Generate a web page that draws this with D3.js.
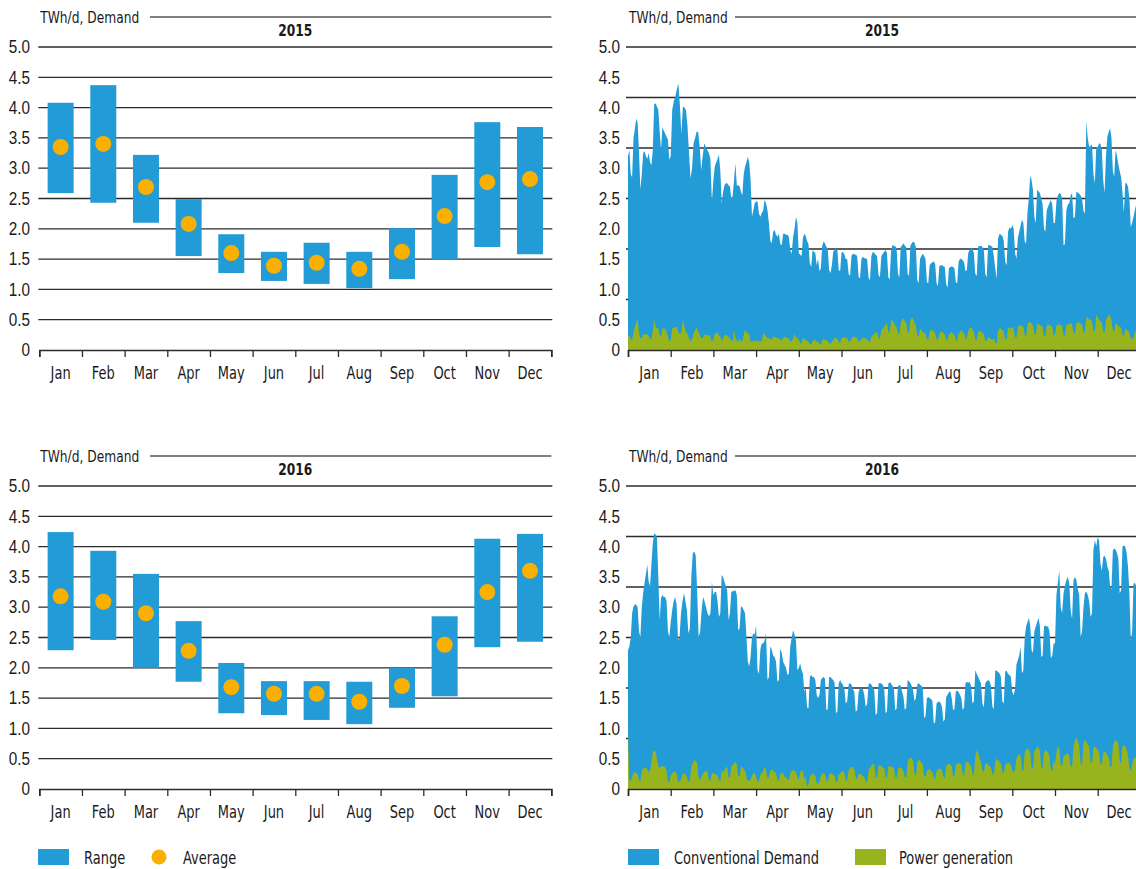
<!DOCTYPE html>
<html>
<head>
<meta charset="utf-8">
<script src="https://cdn.jsdelivr.net/npm/d3@7"></script>
<style>
  body { margin: 0; background: #fff; }
  svg { display: block; font-family: 'Liberation Sans Narrow', 'DejaVu Sans Condensed', 'Roboto', sans-serif; }
</style>
</head>
<body>
<svg id="chart" width="1136" height="869"></svg>
<script>
const months = ['Jan', 'Feb', 'Mar', 'Apr', 'May', 'Jun', 'Jul', 'Aug', 'Sep', 'Oct', 'Nov', 'Dec'];
const yTicks = [0, 0.5, 1, 1.5, 2, 2.5, 3, 3.5, 4, 4.5, 5];

// monthly range / average (left panels)
const low2015 = [2.59, 2.43, 2.1, 1.55, 1.27, 1.14, 1.09, 1.02, 1.17, 1.49, 1.7, 1.58];
const high2015 = [4.08, 4.37, 3.22, 2.49, 1.91, 1.62, 1.77, 1.62, 2.01, 2.89, 3.76, 3.68];
const avg2015 = [3.35, 3.4, 2.69, 2.08, 1.6, 1.39, 1.44, 1.34, 1.62, 2.21, 2.77, 2.82];
const low2016 = [2.29, 2.46, 2.0, 1.77, 1.25, 1.22, 1.14, 1.07, 1.34, 1.53, 2.34, 2.43];
const high2016 = [4.24, 3.93, 3.55, 2.77, 2.08, 1.78, 1.78, 1.77, 2.0, 2.85, 4.13, 4.21];
const avg2016 = [3.18, 3.09, 2.9, 2.28, 1.68, 1.57, 1.57, 1.44, 1.7, 2.38, 3.25, 3.6];

// daily conventional demand, one array per month (right panels)
const demand2015 = [
  [3.2,3.3,2.9,2.85,3.5,3.65,3.82,3.75,3.25,2.65,2.9,3.25,3.28,3.2,3.15,3.25,3.1,3.05,3.3,4.05,4.07,4.02,3.96,3.6,3.3,3.68,3.62,3.57,3.52,3.47,3.14],
  [3.2,3.96,4.1,4.18,4.3,4.4,4.05,3.57,4.02,4.0,3.96,3.7,3.25,2.83,3.0,3.41,3.5,3.6,3.6,3.36,2.97,3.2,3.41,3.35,3.3,3.25,3.16,2.45],
  [2.8,3.03,3.1,3.15,3.22,2.97,2.42,2.6,2.72,2.75,2.75,2.72,2.7,2.5,2.55,2.8,3.08,2.72,2.72,2.7,2.61,2.55,2.9,3.03,3.1,3.19,3.1,2.8,2.2,2.3,2.42],
  [2.45,2.45,2.25,2.2,2.26,2.3,2.48,2.42,2.3,2.09,1.8,1.76,1.95,1.98,1.9,1.87,1.92,1.75,1.73,1.92,1.92,1.9,1.9,1.87,1.65,1.59,1.87,2.0,2.2,2.1],
  [1.6,1.57,1.55,1.85,1.92,1.88,1.8,1.75,1.43,1.37,1.65,1.62,1.6,1.4,1.5,1.3,1.35,1.72,1.79,1.76,1.7,1.68,1.32,1.27,1.4,1.62,1.66,1.68,1.65,1.32,1.3],
  [1.6,1.62,1.58,1.5,1.5,1.26,1.22,1.55,1.59,1.58,1.57,1.55,1.21,1.18,1.5,1.54,1.52,1.51,1.5,1.2,1.15,1.55,1.62,1.6,1.57,1.55,1.24,1.2,1.55,1.59],
  [1.62,1.65,1.6,1.2,1.16,1.65,1.73,1.72,1.71,1.68,1.26,1.2,1.7,1.73,1.76,1.72,1.7,1.26,1.22,1.72,1.76,1.79,1.77,1.7,1.16,1.1,1.5,1.55,1.59,1.55,1.5],
  [1.12,1.1,1.4,1.43,1.45,1.46,1.42,1.1,1.05,1.38,1.4,1.4,1.38,1.37,1.08,1.03,1.35,1.37,1.38,1.37,1.35,1.12,1.1,1.45,1.51,1.5,1.48,1.45,1.3,1.32,1.6],
  [1.65,1.68,1.68,1.6,1.26,1.22,1.71,1.71,1.72,1.7,1.65,1.26,1.2,1.73,1.73,1.72,1.7,1.55,1.35,1.17,1.84,1.92,1.9,1.88,1.8,1.46,1.4,1.95,2.02,2.0],
  [2.06,2.0,1.6,1.5,1.84,1.95,2.05,2.15,2.1,1.8,1.75,2.26,2.5,2.88,2.8,2.64,2.2,2.09,2.64,2.62,2.59,2.5,2.4,2.0,1.95,2.3,2.37,2.42,2.48,2.4,2.09],
  [2.1,2.45,2.55,2.59,2.58,2.5,1.73,1.75,2.31,2.4,2.42,2.55,2.59,2.17,2.2,2.61,2.6,2.58,2.55,2.5,2.3,2.25,3.77,3.5,3.35,3.37,3.39,2.9,2.75,3.35],
  [3.35,3.41,3.4,3.3,2.8,2.59,3.2,3.52,3.6,3.66,3.5,2.95,2.86,3.3,3.2,3.06,2.95,2.85,2.6,2.26,2.75,2.75,2.7,2.5,2.03,2.1,2.2,2.31,2.4,2.45,2.3]
];
const power2015 = [
  [0.22,0.24,0.18,0.17,0.3,0.38,0.45,0.52,0.28,0.19,0.2,0.25,0.27,0.25,0.26,0.24,0.19,0.18,0.33,0.5,0.38,0.36,0.36,0.25,0.22,0.36,0.35,0.35,0.3,0.22,0.15],
  [0.16,0.36,0.37,0.38,0.38,0.3,0.25,0.3,0.5,0.38,0.3,0.27,0.2,0.14,0.18,0.27,0.33,0.38,0.3,0.25,0.19,0.2,0.25,0.25,0.24,0.25,0.22,0.14],
  [0.18,0.27,0.27,0.3,0.24,0.22,0.16,0.18,0.24,0.25,0.24,0.22,0.2,0.16,0.14,0.33,0.2,0.16,0.14,0.2,0.14,0.15,0.25,0.33,0.3,0.27,0.27,0.14,0.13,0.15,0.16],
  [0.14,0.16,0.15,0.14,0.15,0.27,0.27,0.22,0.2,0.2,0.18,0.17,0.22,0.22,0.2,0.2,0.19,0.16,0.17,0.2,0.22,0.2,0.2,0.19,0.15,0.14,0.19,0.27,0.2,0.2],
  [0.16,0.12,0.11,0.2,0.18,0.17,0.15,0.14,0.1,0.09,0.15,0.16,0.17,0.13,0.15,0.1,0.09,0.16,0.18,0.17,0.16,0.15,0.11,0.1,0.13,0.17,0.2,0.2,0.18,0.13,0.12],
  [0.2,0.2,0.22,0.2,0.2,0.14,0.13,0.2,0.22,0.22,0.21,0.2,0.15,0.14,0.18,0.2,0.2,0.19,0.18,0.14,0.13,0.22,0.25,0.27,0.28,0.3,0.2,0.18,0.33,0.35],
  [0.38,0.42,0.44,0.3,0.28,0.5,0.48,0.45,0.4,0.38,0.28,0.25,0.45,0.5,0.52,0.48,0.44,0.3,0.28,0.5,0.53,0.52,0.45,0.4,0.25,0.22,0.35,0.33,0.3,0.28,0.27],
  [0.18,0.17,0.3,0.33,0.33,0.3,0.28,0.18,0.16,0.27,0.3,0.3,0.28,0.25,0.17,0.16,0.25,0.28,0.3,0.27,0.25,0.17,0.15,0.27,0.3,0.33,0.3,0.28,0.18,0.2,0.3],
  [0.36,0.38,0.34,0.3,0.18,0.16,0.3,0.32,0.3,0.28,0.27,0.15,0.14,0.22,0.2,0.18,0.17,0.2,0.12,0.11,0.32,0.36,0.35,0.33,0.3,0.18,0.17,0.38,0.36,0.35],
  [0.38,0.36,0.22,0.2,0.38,0.4,0.41,0.4,0.38,0.25,0.22,0.42,0.47,0.45,0.44,0.4,0.27,0.24,0.42,0.43,0.41,0.4,0.38,0.24,0.22,0.4,0.42,0.41,0.4,0.38,0.24],
  [0.25,0.4,0.42,0.42,0.41,0.4,0.25,0.24,0.42,0.42,0.43,0.44,0.42,0.28,0.26,0.44,0.46,0.45,0.44,0.42,0.3,0.28,0.55,0.53,0.5,0.5,0.47,0.32,0.3,0.58],
  [0.55,0.5,0.48,0.45,0.3,0.28,0.5,0.55,0.58,0.56,0.5,0.32,0.3,0.45,0.42,0.4,0.38,0.37,0.25,0.24,0.35,0.33,0.32,0.28,0.2,0.18,0.2,0.3,0.32,0.3,0.25]
];
const demand2016 = [
  [2.29,2.35,2.5,2.9,3.01,3.05,3.04,3.0,2.6,2.51,3.0,3.23,3.4,3.55,3.7,3.42,3.35,3.7,4.05,4.22,4.2,4.15,3.5,2.79,3.15,3.2,3.17,3.17,3.1,2.6,2.51],
  [2.75,2.95,3.1,3.17,3.05,2.46,2.5,2.9,3.1,3.23,3.1,2.95,2.57,2.65,3.5,3.89,3.92,3.85,3.23,2.51,2.6,2.95,3.17,3.1,3.0,2.9,2.85,2.9,3.42],
  [3.2,3.25,3.25,3.1,2.84,2.9,3.53,3.5,3.42,3.35,3.28,2.79,2.9,3.26,3.26,3.27,3.28,3.2,2.62,2.65,3.01,3.0,2.95,2.9,2.51,2.1,2.02,2.18,2.5,2.57,2.55],
  [2.7,1.96,1.9,2.3,2.4,2.4,2.45,2.57,1.8,1.85,2.35,2.3,2.2,2.18,2.1,1.77,1.8,2.32,2.25,2.1,2.05,2.0,1.88,1.9,2.35,2.5,2.62,2.55,2.45,1.96],
  [2.0,2.07,1.96,1.9,1.6,1.69,1.35,1.33,1.85,1.88,1.85,1.85,1.8,1.55,1.5,1.55,1.8,1.83,1.85,1.82,1.3,1.32,1.85,1.85,1.82,1.8,1.75,1.25,1.28,1.75,1.8],
  [1.75,1.72,1.65,1.41,1.45,1.72,1.75,1.72,1.65,1.6,1.28,1.3,1.6,1.66,1.66,1.65,1.55,1.36,1.4,1.72,1.75,1.72,1.68,1.63,1.22,1.25,1.74,1.75,1.74,1.72],
  [1.65,1.25,1.28,1.74,1.76,1.74,1.7,1.67,1.3,1.33,1.69,1.72,1.7,1.6,1.52,1.3,1.35,1.8,1.78,1.75,1.7,1.63,1.45,1.5,1.72,1.75,1.72,1.7,1.68,1.17,1.2],
  [1.5,1.52,1.5,1.48,1.46,1.08,1.1,1.41,1.44,1.44,1.42,1.35,1.11,1.15,1.52,1.55,1.6,1.61,1.5,1.3,1.32,1.61,1.62,1.6,1.55,1.5,1.3,1.35,1.74,1.77,1.75],
  [1.77,1.7,1.41,1.45,1.96,1.9,1.85,1.8,1.74,1.41,1.35,1.74,1.78,1.8,1.78,1.7,1.36,1.32,1.96,1.95,1.93,1.91,1.85,1.45,1.41,1.94,1.95,1.9,1.88,1.85],
  [1.6,1.55,1.65,2.05,2.13,2.2,2.35,1.91,1.95,2.5,2.68,2.75,2.82,2.7,2.29,2.25,2.6,2.68,2.75,2.82,2.7,2.18,2.2,2.68,2.7,2.68,2.68,2.6,2.16,2.2,2.4],
  [2.4,3.2,3.4,3.61,3.0,2.9,3.23,3.35,3.45,3.5,3.4,2.95,2.8,3.45,3.5,3.45,3.3,3.2,2.51,2.6,3.0,3.23,3.26,3.2,3.1,2.84,2.9,3.94,4.11,4.0],
  [4.16,4.1,3.72,3.6,3.83,3.85,3.8,3.67,3.6,3.34,3.3,3.94,3.97,3.95,3.9,3.8,3.23,3.28,4.0,4.02,4.0,3.9,3.67,3.23,2.46,2.6,3.39,3.4,3.35,3.2,2.9]
];
const power2016 = [
  [0.97,0.15,0.14,0.2,0.26,0.28,0.26,0.25,0.15,0.12,0.3,0.34,0.36,0.35,0.33,0.28,0.3,0.45,0.6,0.64,0.62,0.5,0.38,0.35,0.37,0.38,0.37,0.36,0.3,0.12,0.11],
  [0.22,0.26,0.28,0.29,0.26,0.12,0.13,0.15,0.25,0.26,0.24,0.2,0.12,0.13,0.38,0.42,0.48,0.46,0.42,0.18,0.15,0.2,0.26,0.28,0.31,0.27,0.15,0.14,0.26],
  [0.26,0.25,0.24,0.22,0.15,0.13,0.31,0.28,0.3,0.35,0.37,0.2,0.18,0.37,0.4,0.42,0.45,0.4,0.22,0.2,0.37,0.36,0.33,0.3,0.2,0.14,0.13,0.16,0.22,0.26,0.25],
  [0.2,0.12,0.13,0.24,0.26,0.3,0.37,0.3,0.18,0.2,0.3,0.32,0.3,0.28,0.25,0.15,0.14,0.25,0.27,0.26,0.2,0.2,0.16,0.15,0.26,0.31,0.31,0.3,0.28,0.2],
  [0.15,0.28,0.3,0.3,0.15,0.22,0.05,0.06,0.2,0.24,0.25,0.24,0.22,0.1,0.08,0.12,0.22,0.25,0.26,0.25,0.14,0.12,0.24,0.26,0.25,0.24,0.22,0.12,0.11,0.24,0.26],
  [0.28,0.3,0.27,0.15,0.14,0.3,0.35,0.37,0.36,0.33,0.18,0.16,0.25,0.25,0.23,0.22,0.2,0.12,0.11,0.3,0.35,0.38,0.42,0.4,0.2,0.18,0.38,0.4,0.38,0.35],
  [0.35,0.2,0.18,0.37,0.38,0.37,0.36,0.35,0.2,0.18,0.34,0.36,0.35,0.33,0.3,0.2,0.19,0.45,0.5,0.52,0.5,0.46,0.25,0.22,0.44,0.48,0.47,0.44,0.4,0.22,0.2],
  [0.3,0.32,0.33,0.3,0.28,0.18,0.16,0.3,0.32,0.34,0.33,0.31,0.2,0.18,0.38,0.4,0.42,0.4,0.38,0.22,0.2,0.4,0.42,0.43,0.42,0.4,0.25,0.22,0.44,0.45,0.44],
  [0.4,0.38,0.25,0.22,0.55,0.64,0.6,0.5,0.45,0.3,0.28,0.42,0.42,0.4,0.38,0.36,0.25,0.23,0.45,0.5,0.48,0.45,0.42,0.28,0.26,0.4,0.42,0.44,0.42,0.4],
  [0.3,0.28,0.32,0.5,0.55,0.59,0.55,0.32,0.3,0.6,0.65,0.67,0.65,0.6,0.35,0.33,0.62,0.66,0.7,0.68,0.64,0.36,0.34,0.6,0.64,0.63,0.6,0.55,0.32,0.3,0.5],
  [0.4,0.6,0.7,0.68,0.4,0.37,0.55,0.56,0.58,0.59,0.55,0.38,0.36,0.7,0.8,0.84,0.8,0.7,0.42,0.4,0.75,0.81,0.78,0.74,0.7,0.45,0.42,0.68,0.7,0.68],
  [0.64,0.62,0.42,0.4,0.6,0.62,0.6,0.55,0.53,0.38,0.36,0.7,0.78,0.81,0.78,0.75,0.45,0.42,0.7,0.72,0.7,0.65,0.55,0.35,0.3,0.4,0.5,0.53,0.5,0.48,0.4]
];

const BLUE = '#229bd6';
const ORANGE = '#fab000';
const GREEN = '#97b41f';
const GRID = '#2b2b2b';
const TEXT = '#1a1a1a';

const svg = d3.select('#chart');

// shared header: unit label with rule, bold year
function header(g, x0, x1, top, year, ruleStart) {
  g.append('text')
    .attr('x', x0 + 1)
    .attr('y', top - 24)
    .attr('font-size', 16)
    .attr('fill', TEXT)
    .text('TWh/d, Demand');
  g.append('line')
    .attr('x1', ruleStart).attr('x2', x1)
    .attr('y1', top - 30).attr('y2', top - 30)
    .attr('stroke', '#555').attr('stroke-width', 1.3);
  g.append('text')
    .attr('x', (x0 + x1) / 2)
    .attr('y', top - 11)
    .attr('text-anchor', 'middle')
    .attr('font-size', 16)
    .attr('font-weight', 'bold')
    .attr('fill', TEXT)
    .text(year);
}

function yLabels(g, y, xRight) {
  g.append('g')
    .attr('transform', 'translate(' + xRight + ',0)')
    .call(d3.axisLeft(y).tickValues(yTicks).tickSize(0).tickPadding(0)
      .tickFormat(d => d === 0 ? '0' : d3.format('.1f')(d)))
    .call(a => a.select('.domain').remove())
    .selectAll('text')
    .attr('font-family', null)
    .attr('font-size', 18)
    .attr('fill', TEXT);
}

function xAxis(g, x0, x1, yBase) {
  const bounds = d3.scaleLinear().domain([0, 12]).range([x0, x1]);
  const ax = g.append('g')
    .attr('transform', 'translate(0,' + yBase + ')')
    .call(d3.axisBottom(bounds).ticks(12).tickSizeOuter(0).tickSize(7).tickFormat(''));
  ax.select('.domain').attr('stroke', GRID).attr('stroke-width', 1.6);
  ax.selectAll('.tick line').attr('stroke', GRID).attr('stroke-width', 1.3);
  const band = d3.scaleBand().domain(months).range([x0, x1]);
  g.selectAll(null)
    .data(months)
    .join('text')
    .attr('x', d => band(d) + band.bandwidth() / 2)
    .attr('y', yBase + 29)
    .attr('text-anchor', 'middle')
    .attr('font-size', 17)
    .attr('fill', TEXT)
    .text(d => d);
}

function rangePanel(top, year, low, high, avg) {
  const x0 = 39.3, x1 = 551.3;
  const g = svg.append('g');
  const y = d3.scaleLinear().domain([0, 5]).range([top + 303, top]);
  const x = d3.scaleBand().domain(months).range([x0, x1]);

  header(g, x0, x1, top, year, 150);

  g.selectAll(null)
    .data(yTicks.filter(v => v > 0))
    .join('line')
    .attr('x1', x0 - 1).attr('x2', x1 + 1)
    .attr('y1', d => y(d)).attr('y2', d => y(d))
    .attr('stroke', GRID).attr('stroke-width', 1.3);

  yLabels(g, y, 30);

  g.selectAll(null)
    .data(months)
    .join('rect')
    .attr('x', d => x(d) + x.bandwidth() / 2 - 13)
    .attr('width', 26)
    .attr('y', (d, i) => y(high[i]))
    .attr('height', (d, i) => y(low[i]) - y(high[i]))
    .attr('fill', BLUE);

  g.selectAll(null)
    .data(months)
    .join('circle')
    .attr('cx', d => x(d) + x.bandwidth() / 2)
    .attr('cy', (d, i) => y(avg[i]))
    .attr('r', 8)
    .attr('fill', ORANGE);

  xAxis(g, x0, x1, y(0));
}

function dailyPanel(top, year, demand, power) {
  const x0 = 628, x1 = 1140.4;
  const g = svg.append('g');
  const y = d3.scaleLinear().domain([0, 5]).range([top + 303, top]);
  const starts = d3.cumsum([0].concat(demand.map(m => m.length)));
  const xDay = d3.scaleLinear()
    .domain(Array.from(starts))
    .range(d3.range(13).map(i => x0 + i * (x1 - x0) / 12));

  header(g, x0, 1136, top, year, 735);

  // horizontal rules split the height in six
  g.selectAll(null)
    .data(d3.range(1, 7).map(i => 5 * i / 6))
    .join('line')
    .attr('x1', x0 - 2).attr('x2', 1136)
    .attr('y1', d => y(d)).attr('y2', d => y(d))
    .attr('stroke', GRID).attr('stroke-width', 1.3);

  yLabels(g, y, 620);

  const area = d3.area()
    .x((d, i) => xDay(i))
    .y0(y(0))
    .y1(d => y(d));

  g.append('path').datum(demand.flat()).attr('d', area).attr('fill', BLUE);
  g.append('path').datum(power.flat()).attr('d', area).attr('fill', GREEN);

  xAxis(g, x0, x1, y(0));
}

rangePanel(47, '2015', low2015, high2015, avg2015);
rangePanel(486, '2016', low2016, high2016, avg2016);
dailyPanel(47, '2015', demand2015, power2015);
dailyPanel(486, '2016', demand2016, power2016);

// legends
const legL = svg.append('g').attr('font-size', 17).attr('fill', TEXT);
legL.append('rect').attr('x', 38).attr('y', 849).attr('width', 31).attr('height', 16).attr('fill', BLUE);
legL.append('text').attr('x', 84).attr('y', 864).text('Range');
legL.append('circle').attr('cx', 159).attr('cy', 857).attr('r', 7.5).attr('fill', ORANGE);
legL.append('text').attr('x', 183).attr('y', 864).text('Average');

const legR = svg.append('g').attr('font-size', 17).attr('fill', TEXT);
legR.append('rect').attr('x', 628).attr('y', 849).attr('width', 31).attr('height', 16).attr('fill', BLUE);
legR.append('text').attr('x', 674).attr('y', 864).text('Conventional Demand');
legR.append('rect').attr('x', 855).attr('y', 849).attr('width', 31).attr('height', 16).attr('fill', GREEN);
legR.append('text').attr('x', 899).attr('y', 864).text('Power generation');

// the source face is narrower than the installed condensed fonts; squeeze every label
svg.selectAll('text').each(function () {
  const w = this.getComputedTextLength();
  d3.select(this).attr('textLength', w * 0.85).attr('lengthAdjust', 'spacingAndGlyphs');
});
</script>
</body>
</html>
